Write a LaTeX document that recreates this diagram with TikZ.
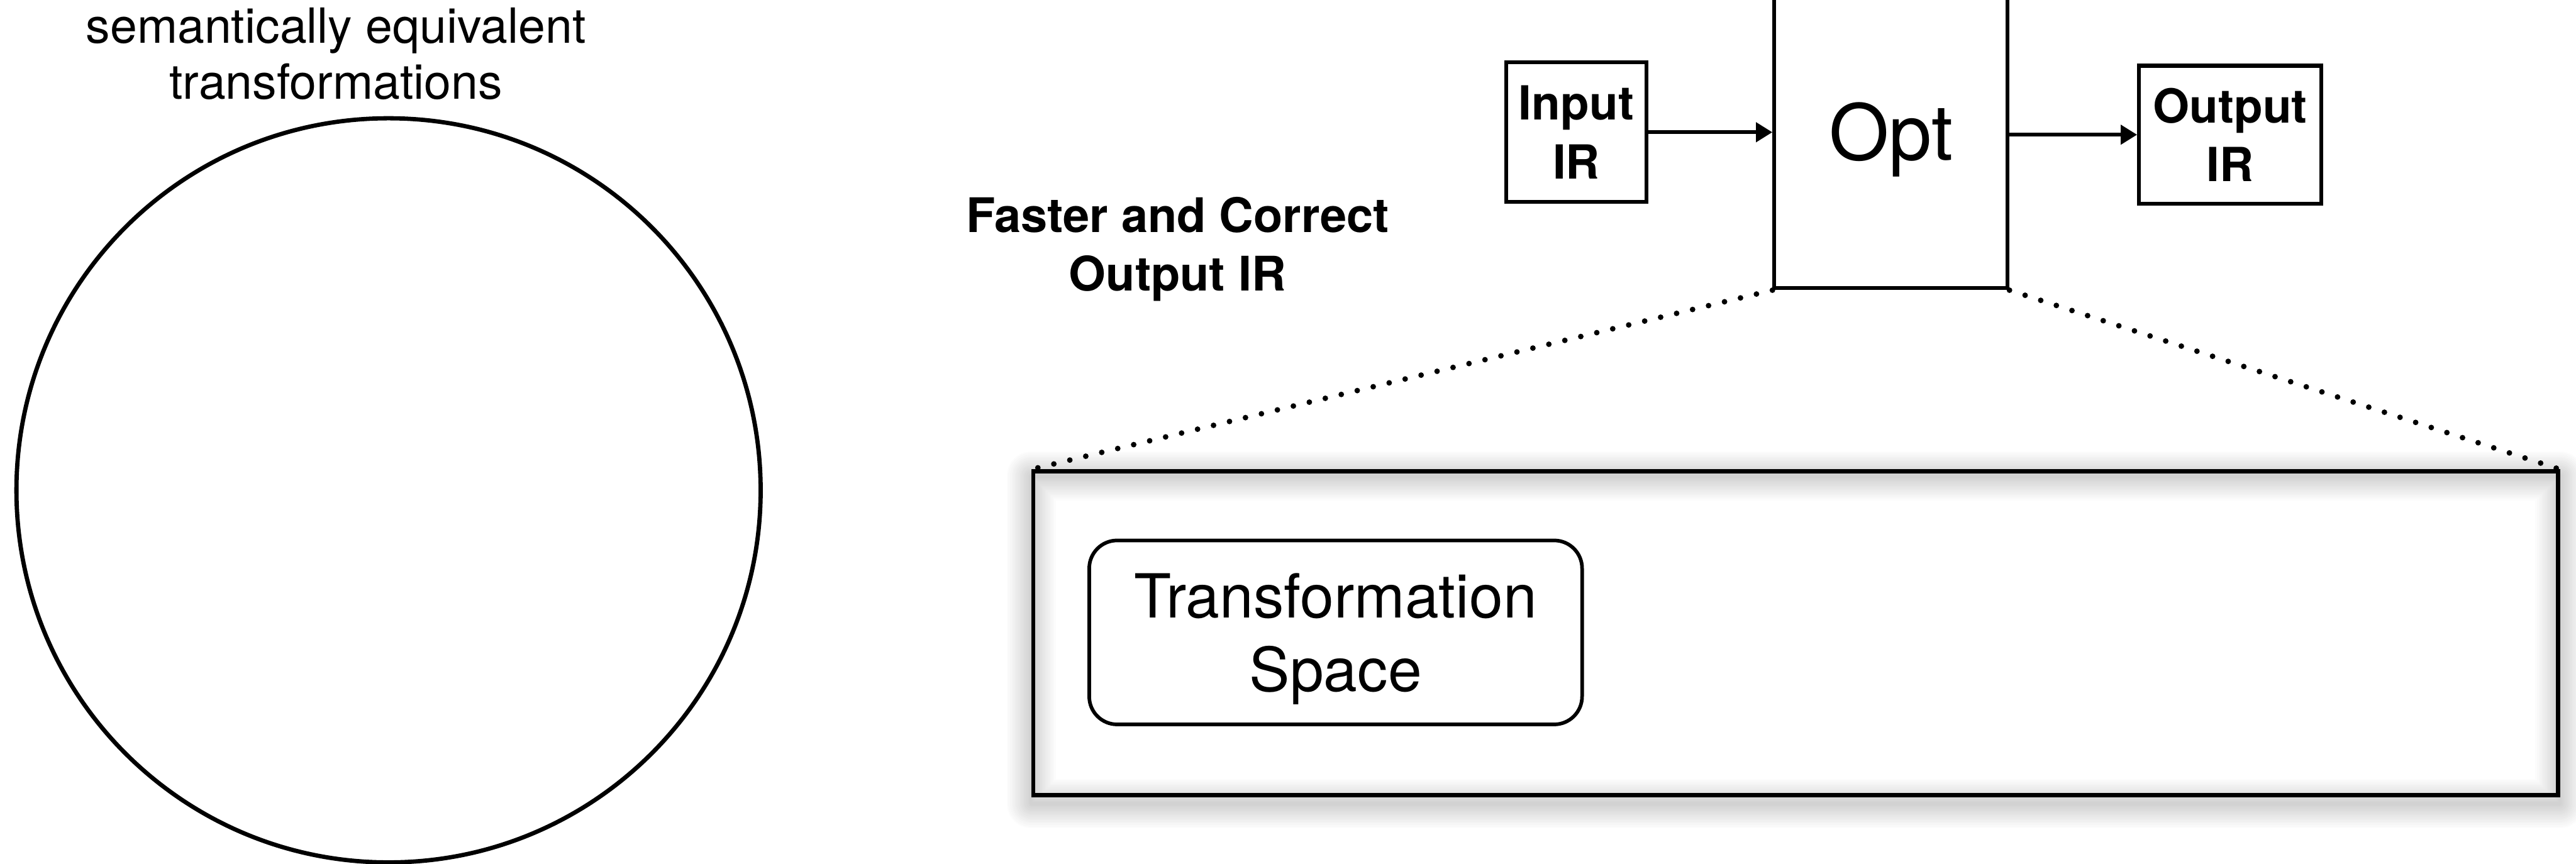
\documentclass[tikz,border=0pt]{standalone}
\usepackage{fontspec}
\setmainfont{TeX Gyre Heros}
\usetikzlibrary{arrows.meta}
\begin{document}
\begin{tikzpicture}[
  x=1pt, y=-1pt,
  caption/.style={inner sep=0pt, align=center, font=\fontsize{29.5}{34.1}\selectfont},
  goalcap/.style={inner sep=0pt, align=center, font=\bfseries\fontsize{29}{35.5}\selectfont},
  irbox/.style={draw, line width=2.3pt, inner sep=0pt, align=center,
    font=\bfseries\fontsize{28.6}{35.7}\selectfont},
  optbox/.style={draw, line width=2.3pt, inner sep=0pt, minimum width=142pt,
    minimum height=181pt, font=\fontsize{47}{56}\selectfont},
  spacebox/.style={draw, line width=2.2pt, rounded corners=17pt, inner sep=0pt,
    minimum width=300pt, minimum height=112pt, align=center,
    font=\fontsize{37}{45}\selectfont},
  stagebox/.style={draw, line width=2.5pt, inner sep=0pt,
    minimum width=928pt, minimum height=197pt},
  link/.style={line width=2.4pt, -{Triangle[length=10pt,width=11.6pt]}},
  zoomline/.style={line width=3.4pt, line cap=round, dash pattern=on 0pt off 10pt}
]
\useasboundingbox (0,0) rectangle (1568,525.6);

% left: the space of equivalent transformations
\node[caption] (sem) at (204.5,32.6) {semantically equivalent\\transformations};
\node[draw, circle, line width=2.6pt, minimum size=453pt, inner sep=0pt] (space) at (236.5,298.5) {};

\node[goalcap] (goal) at (716.8,151.7) {Faster and Correct\\Output IR};

% top right: optimisation pipeline
\node[irbox, minimum width=85pt, minimum height=85pt] (in) at (959.5,80.5) {Input\\IR};
\node[optbox] (opt) at (1151,85) {Opt};
\node[irbox, minimum width=111pt, minimum height=84pt] (out) at (1357.5,82) {Output\\IR};

\draw[link] (in.east) -- (in.east -| opt.west);
\draw[link] (out.west -| opt.east) -- (out.west);

% zoomed view of the optimiser, with a soft shadow around its frame
\node[stagebox] (stage) at (1093,385.5) {};
\foreach \w in {2,4,...,30}
  \draw[line width=\w pt, black, opacity=0.01, line join=round]
    ([yshift=-4pt]stage.north west) rectangle ([yshift=-4pt]stage.south east);
\node[stagebox] at (stage.center) {};

\node[spacebox] (ts) at (813,385) {\rule{0pt}{35pt}Transformation\\Space};

\draw[zoomline] (opt.south west) -- (stage.north west);
\draw[zoomline] (opt.south east) -- (stage.north east);
\end{tikzpicture}
\end{document}
